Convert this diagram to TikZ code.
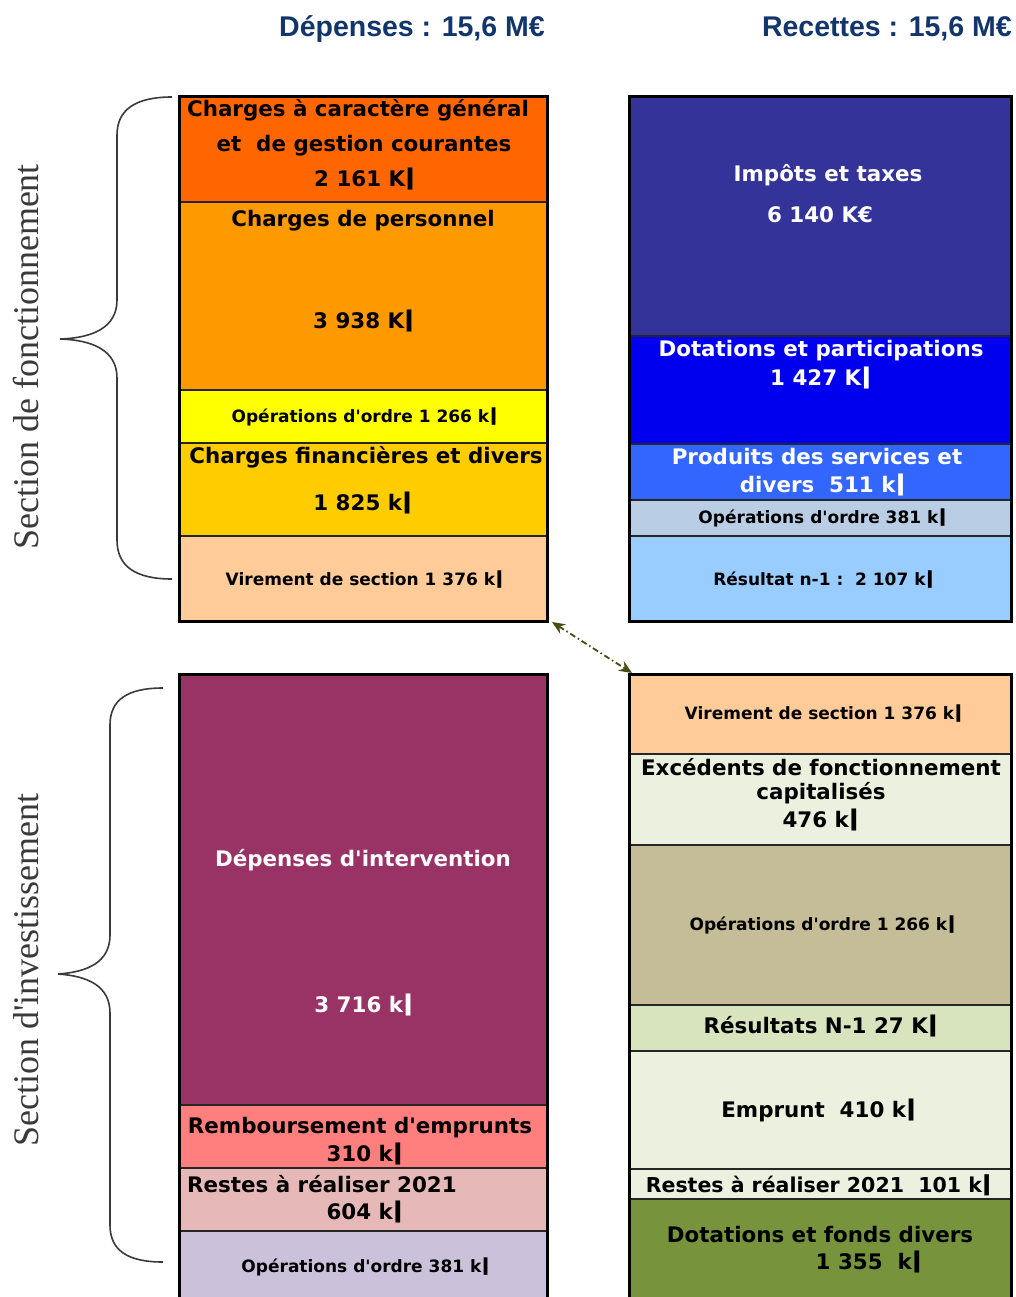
\documentclass[tikz,border=0pt]{standalone}
\usepackage{fontspec}
\setmainfont{DejaVu Sans}
\newfontfamily\hdrfont{Liberation Sans}
\newfontfamily\secfont{Liberation Serif}
\usetikzlibrary{arrows.meta}
\newcommand{\kb}{\hspace{1.5pt}\scalebox{0.6}[1.35]{▮}}
\newcommand{\ap}{\textquotesingle}
\definecolor{cOrA}{HTML}{FF6600}
\definecolor{cOrB}{HTML}{FF9900}
\definecolor{cYel}{HTML}{FFFF00}
\definecolor{cGold}{HTML}{FFCC00}
\definecolor{cPeach}{HTML}{FFCC99}
\definecolor{cNavy}{HTML}{333399}
\definecolor{cBlue}{HTML}{0000EE}
\definecolor{cMidBlue}{HTML}{3366FF}
\definecolor{cGrayBlue}{HTML}{B9CDE5}
\definecolor{cLightBlue}{HTML}{99CCFF}
\definecolor{cPlum}{HTML}{993366}
\definecolor{cSalmon}{HTML}{FF7F7F}
\definecolor{cPink}{HTML}{E6B9B8}
\definecolor{cLav}{HTML}{CCC1DA}
\definecolor{cPale}{HTML}{EBF1DE}
\definecolor{cKhaki}{HTML}{C4BD97}
\definecolor{cLGreen}{HTML}{D7E4BD}
\definecolor{cOlive}{HTML}{77933C}
\definecolor{cHdr}{HTML}{12366B}
\definecolor{cSec}{HTML}{3A3A3A}
\definecolor{cArrow}{HTML}{4A4A14}
\begin{document}
\begin{tikzpicture}[x=1pt,y=-1pt,
  segL/.style={draw=black!85, line width=1.5pt, anchor=north west, inner sep=0pt, outer sep=0pt, minimum width=368pt},
  segR/.style={draw=black!85, line width=1.5pt, anchor=north west, inner sep=0pt, outer sep=0pt, minimum width=382pt},
  frame/.style={draw=black, line width=3pt, anchor=north west, inner sep=0pt, outer sep=0pt},
  tx/.style={font=\fontsize{21.4}{25}\selectfont\bfseries, anchor=base, inner sep=0pt},
  txs/.style={font=\fontsize{17}{20}\selectfont\bfseries, anchor=base, inner sep=0pt},
  wh/.style={text=white},
  hd/.style={font=\hdrfont\bfseries\fontsize{28.5}{31}\selectfont, text=cHdr, anchor=base east, inner sep=0pt},
  sec/.style={font=\secfont\fontsize{36}{40}\selectfont, text=cSec, rotate=90, inner sep=0pt},
  brace/.style={draw=cSec, line width=1.6pt},
  link/.style={draw=cArrow, line width=1.8pt, dash pattern=on 6pt off 3pt on 1.5pt off 3pt, {Stealth[length=13pt,width=11pt]}-{Stealth[length=13pt,width=11pt]}}
]
\useasboundingbox (0,0) rectangle (1015,1297);

% headers
\node[hd] (hdep) at (545,37) {Dépenses : 15,6 M€};
\node[hd] (hrec) at (1012,37) {Recettes : 15,6 M€};

% ---------- top left column
\node[segL, fill=cOrA, minimum height=105pt] (a1) at (179,97) {};
\node[segL, fill=cOrB, minimum height=188pt] (a2) at (179,202) {};
\node[segL, fill=cYel, minimum height=53pt] (a3) at (179,390) {};
\node[segL, fill=cGold, minimum height=93pt] (a4) at (179,443) {};
\node[segL, fill=cPeach, minimum height=85pt] (a5) at (179,536) {};
\node[frame, minimum width=368pt, minimum height=524pt] (fTL) at (179,97) {};

\node[tx] (a1t1) at (358,117) {Charges à caractère général};
\node[tx] (a1t2) at (364,152) {et\ \ de gestion courantes};
\node[tx] (a1t3) at (364,187) {2 161 K\kb};
\node[tx] (a2t1) at (363,226) {Charges de personnel};
\node[tx] (a2t2) at (363,328) {3 938 K\kb};
\node[txs] (a3t1) at (364,422) {Opérations d\ap ordre 1 266 k\kb};
\node[tx] (a4t1) at (366,463) {Charges financières et divers};
\node[tx] (a4t2) at (362,510) {1 825 k\kb};
\node[txs] (a5t1) at (364,585) {Virement de section 1 376 k\kb};

% ---------- top right column
\node[segR, fill=cNavy, minimum height=239pt] (b1) at (629,97) {};
\node[segR, fill=cBlue, minimum height=108pt] (b2) at (629,336) {};
\node[segR, fill=cMidBlue, minimum height=56pt] (b3) at (629,444) {};
\node[segR, fill=cGrayBlue, minimum height=36pt] (b4) at (629,500) {};
\node[segR, fill=cLightBlue, minimum height=85pt] (b5) at (629,536) {};
\node[frame, minimum width=382pt, minimum height=524pt] (fTR) at (629,97) {};

\node[tx, wh] (b1t1) at (828,182) {Impôts et taxes};
\node[tx, wh] (b1t2) at (820,223) {6 140 K€};
\node[tx, wh] (b2t1) at (821,356) {Dotations et participations};
\node[tx, wh] (b2t2) at (820,385) {1 427 K\kb};
\node[tx, wh] (b3t1) at (817,464) {Produits des services et};
\node[tx, wh] (b3t2) at (822,492) {divers\ \ 511 k\kb};
\node[txs] (b4t1) at (822,523) {Opérations d\ap ordre 381 k\kb};
\node[txs] (b5t1) at (823,585) {Résultat n-1 :\ \ 2 107 k\kb};

% ---------- bottom left column
\node[segL, fill=cPlum, minimum height=431pt] (c1) at (179,674) {};
\node[segL, fill=cSalmon, minimum height=63pt] (c2) at (179,1105) {};
\node[segL, fill=cPink, minimum height=63pt] (c3) at (179,1168) {};
\node[segL, fill=cLav, minimum height=90pt] (c4) at (179,1231) {};
\node[frame, minimum width=368pt, minimum height=650pt] (fBL) at (179,674) {};

\node[tx, wh] (c1t1) at (363,866) {Dépenses d\ap intervention};
\node[tx, wh] (c1t2) at (363,1012) {3 716 k\kb};
\node[tx] (c2t1) at (360,1133) {Remboursement d\ap emprunts};
\node[tx] (c2t2) at (364,1161) {310 k\kb};
\node[tx, anchor=base west] (c3t1) at (187,1192) {Restes à réaliser 2021};
\node[tx] (c3t2) at (364,1219) {604 k\kb};
\node[txs] (c4t1) at (365,1272) {Opérations d\ap ordre 381 k\kb};

% ---------- bottom right column
\node[segR, fill=cPeach, minimum height=80pt] (d1) at (629,674) {};
\node[segR, fill=cPale, minimum height=91pt] (d2) at (629,754) {};
\node[segR, fill=cKhaki, minimum height=160pt] (d3) at (629,845) {};
\node[segR, fill=cLGreen, minimum height=46pt] (d4) at (629,1005) {};
\node[segR, fill=cPale, minimum height=118pt] (d5) at (629,1051) {};
\node[segR, fill=cPale, minimum height=30pt] (d6) at (629,1169) {};
\node[segR, fill=cOlive, minimum height=121pt] (d7) at (629,1199) {};
\node[frame, minimum width=382pt, minimum height=650pt] (fBR) at (629,674) {};

\node[txs] (d1t1) at (823,719) {Virement de section 1 376 k\kb};
\node[tx] (d2t1) at (821,775) {Excédents de fonctionnement};
\node[tx] (d2t2) at (821,799) {capitalisés};
\node[tx] (d2t3) at (820,827) {476 k\kb};
\node[txs] (d3t1) at (822,930) {Opérations d\ap ordre 1 266 k\kb};
\node[tx] (d4t1) at (820,1033) {Résultats N-1 27 K\kb};
\node[tx] (d5t1) at (818,1117) {Emprunt\ \ 410 k\kb};
\node[tx, font=\fontsize{20.5}{24}\selectfont\bfseries] (d6t1) at (818,1192) {Restes à réaliser 2021\ \ 101 k\kb};
\node[tx] (d7t1) at (820,1242) {Dotations et fonds divers};
\node[tx] (d7t2) at (868,1269) {1 355\ \ k\kb};

% ---------- link arrow
\draw[link] ([shift={(5,1)}]fTL.south east) -- ([shift={(3,-1)}]fBR.north west);

% ---------- braces
\draw[brace] (172,97) .. controls (135,97) and (117,110) .. (117,135) -- (117,300)
  .. controls (117,328) and (92,338) .. (60,339)
  .. controls (92,340) and (117,350) .. (117,378) -- (117,540)
  .. controls (117,566) and (135,579) .. (172,579);
\draw[brace] (163,688) .. controls (127,688) and (110,700) .. (110,725) -- (110,935)
  .. controls (110,962) and (88,972) .. (58,974)
  .. controls (88,976) and (110,986) .. (110,1013) -- (110,1225)
  .. controls (110,1250) and (127,1262) .. (163,1262);

% ---------- section labels
\node[sec] (sfonc) at (26,357) {Section de fonctionnement};
\node[sec] (sinv) at (26,970) {Section d\ap investissement};
\end{tikzpicture}
\end{document}
